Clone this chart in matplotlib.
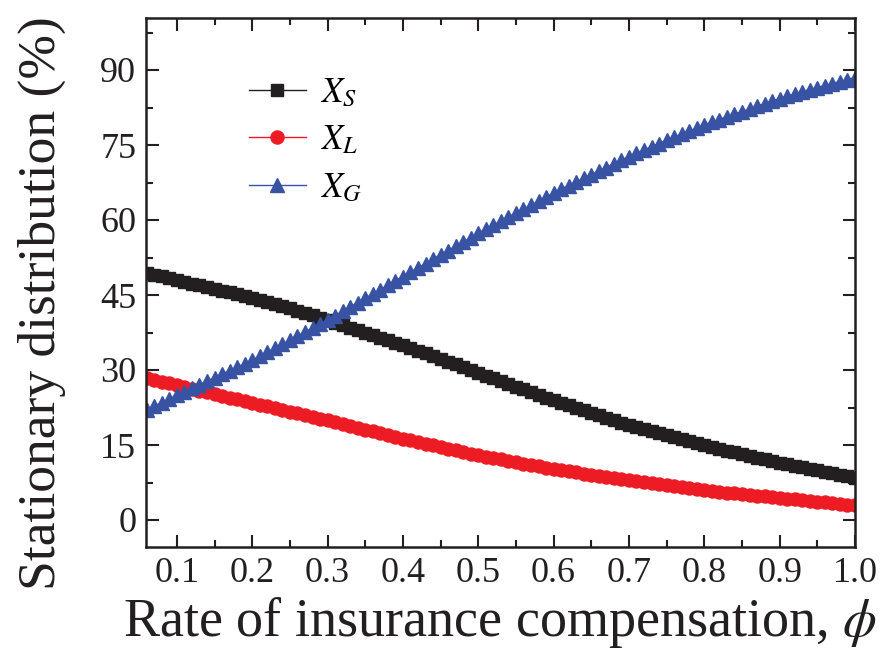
import numpy as np
import matplotlib
matplotlib.use("Agg")
import matplotlib.pyplot as plt
from matplotlib.ticker import MultipleLocator

plt.rcParams['font.family'] = ['Liberation Serif', 'DejaVu Serif']
plt.rcParams['mathtext.fontset'] = 'stix'

# compensation rate phi, 0.05 .. 1.00 in steps of 0.01
phi = np.round(np.arange(5, 101) / 100, 2)

x_s = [49.8, 49.5, 49.1, 48.8, 48.4, 48.0,
       47.7, 47.3, 47.0, 46.6, 46.3, 45.9, 45.6, 45.2, 44.9, 44.5,
       44.1, 43.7, 43.3, 42.8, 42.4, 41.9, 41.5, 41.0, 40.5, 40.0,
       39.5, 39.0, 38.5, 38.0, 37.5, 37.0, 36.5, 36.0, 35.5, 35.0,
       34.5, 33.9, 33.4, 32.8, 32.3, 31.7, 31.2, 30.6, 30.1, 29.5,
       28.9, 28.4, 27.8, 27.3, 26.7, 26.2, 25.6, 25.1, 24.5, 24.0,
       23.5, 23.0, 22.5, 22.0, 21.5, 21.0, 20.5, 20.0, 19.5, 19.0,
       18.6, 18.2, 17.8, 17.4, 17.0, 16.6, 16.2, 15.8, 15.4, 15.0,
       14.6, 14.3, 13.9, 13.6, 13.2, 12.9, 12.5, 12.2, 11.8, 11.5,
       11.2, 10.9, 10.6, 10.3, 10.0, 9.7, 9.4, 9.1, 8.8, 8.5]

x_l = [28.8, 28.4, 28.1, 27.7, 27.4, 27.0,
       26.6, 26.3, 25.9, 25.6, 25.2, 24.9, 24.5, 24.2, 23.8, 23.5,
       23.1, 22.8, 22.4, 22.1, 21.7, 21.4, 21.0, 20.7, 20.3, 20.0,
       19.6, 19.2, 18.9, 18.5, 18.1, 17.8, 17.4, 17.0, 16.7, 16.3,
       16.0, 15.6, 15.3, 15.0, 14.6, 14.3, 14.0, 13.6, 13.3, 13.0,
       12.7, 12.4, 12.2, 11.9, 11.6, 11.3, 11.1, 10.8, 10.5, 10.3,
       10.0, 9.8, 9.6, 9.3, 9.1, 8.9, 8.7, 8.4, 8.2, 8.0,
       7.8, 7.6, 7.4, 7.2, 7.0, 6.8, 6.6, 6.4, 6.2, 6.0,
       5.8, 5.7, 5.5, 5.4, 5.2, 5.1, 4.9, 4.8, 4.6, 4.5,
       4.3, 4.2, 4.0, 3.9, 3.7, 3.6, 3.4, 3.3, 3.1, 3.0]

x_g = [21.4, 22.1, 22.8, 23.5, 24.2, 25.0,
       25.7, 26.4, 27.1, 27.8, 28.5, 29.2, 29.9, 30.6, 31.3, 32.0,
       32.8, 33.6, 34.4, 35.2, 36.0, 36.8, 37.6, 38.4, 39.2, 40.0,
       40.9, 41.8, 42.7, 43.5, 44.4, 45.2, 46.1, 47.0, 47.9, 48.7,
       49.6, 50.5, 51.3, 52.2, 53.1, 53.9, 54.8, 55.6, 56.5, 57.4,
       58.2, 59.0, 59.8, 60.6, 61.4, 62.2, 63.0, 63.8, 64.6, 65.4,
       66.2, 66.9, 67.6, 68.4, 69.1, 69.8, 70.5, 71.3, 72.0, 72.7,
       73.4, 74.0, 74.7, 75.3, 76.0, 76.6, 77.2, 77.8, 78.4, 79.0,
       79.6, 80.1, 80.7, 81.2, 81.7, 82.2, 82.8, 83.3, 83.8, 84.3,
       84.8, 85.2, 85.7, 86.1, 86.5, 86.9, 87.3, 87.7, 88.1, 88.5]

fig = plt.figure(figsize=(8.85, 6.63), dpi=100)
ax = fig.add_axes([146 / 885, 1 - 547 / 663, (855 - 146) / 885, (547 - 18) / 663])

ax.plot(phi, x_s, '-s', color='#231f20', mfc='#231f20', mec='#231f20', ms=8.6, lw=1, label=r'$X_S$')
ax.plot(phi, x_l, '-o', color='#ed1c24', mfc='#ed1c24', mec='#ed1c24', ms=9.4, lw=1, label=r'$X_L$')
ax.plot(phi, x_g, '-^', color='#3953a4', mfc='#3953a4', mec='#3953a4', ms=10, lw=1, label=r'$X_G$')

ax.set_xlim(0.059, 1.0)
ax.set_ylim(-5.4, 100.4)
ax.xaxis.set_minor_locator(MultipleLocator(0.05))
ax.yaxis.set_major_locator(MultipleLocator(15))
ax.yaxis.set_minor_locator(MultipleLocator(7.5))
ax.set_xticks(np.round(np.arange(1, 11) / 10, 1))
ax.set_xticklabels(['0.1', '0.2', '0.3', '0.4', '0.5', '0.6', '0.7', '0.8', '0.9', '1.0'])

ax.tick_params(which='both', direction='in', top=True, right=True, width=1.5,
               labelsize=26, pad=7, labelcolor='#231f20', color='#231f20')
ax.tick_params(which='major', length=9)
ax.tick_params(which='minor', length=5)
for sp in ax.spines.values():
    sp.set_linewidth(1.8)
    sp.set_color('#231f20')

ax.set_xlabel(r'Rate of insurance compensation, $\phi$', fontsize=39, labelpad=4, color='#231f20')
ax.set_ylabel('Stationary distribution (%)', fontsize=38.5, color='#231f20')
ax.yaxis.set_label_coords(-0.113, 0.461)

ax.legend(loc='upper left', bbox_to_anchor=(0.125, 0.915), frameon=False, fontsize=25,
          handlelength=1.65, labelspacing=0.42, handletextpad=0.4, borderaxespad=0)

fig.savefig('out.png', dpi=100)
